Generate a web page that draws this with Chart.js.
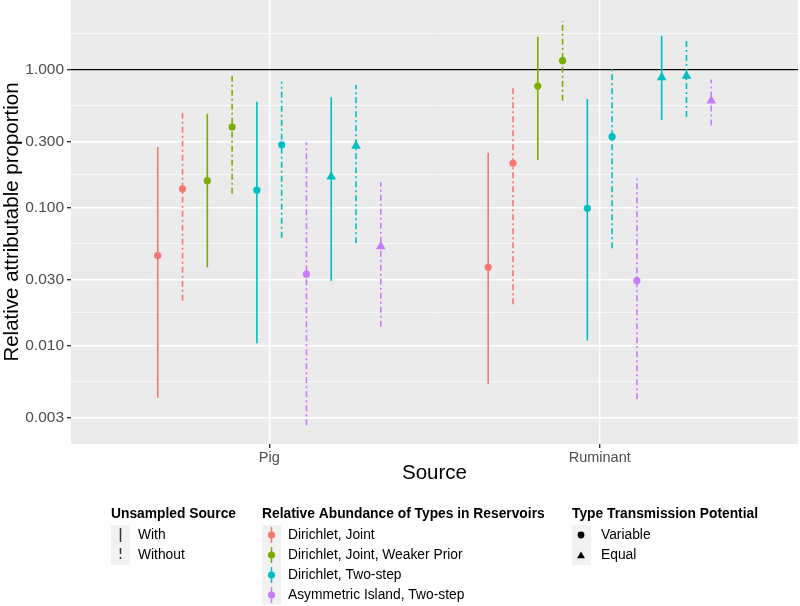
<!DOCTYPE html>
<html>
<head>
<meta charset="utf-8">
<script src="https://cdn.jsdelivr.net/npm/chart.js@4.4.1/dist/chart.umd.min.js"></script>
<style>
html, body { margin: 0; padding: 0; background: #fff; }
</style>
</head>
<body>
<canvas id="myChart" width="800" height="606"></canvas>
<script>
// categories on the x axis
const categories = ['Pig', 'Ruminant'];

// legend groups
const modelNames = ['Dirichlet, Joint', 'Dirichlet, Joint, Weaker Prior', 'Dirichlet, Two-step', 'Asymmetric Island, Two-step'];
const unsampledNames = ['With', 'Without'];
const shapeNames = ['Variable', 'Equal'];

// the 10 dodged series (index into the legend groups above)
const seriesModel = [0, 0, 1, 1, 2, 2, 3, 2, 2, 3];
const seriesUnsampled = [0, 1, 0, 1, 0, 1, 1, 0, 1, 1];
const seriesShape = [0, 0, 0, 0, 0, 0, 0, 1, 1, 1];

// estimates and intervals
const pigEst = [0.045, 0.137, 0.157, 0.384, 0.134, 0.286, 0.033, 0.168, 0.28, 0.0525];
const pigLow = [0.0042, 0.0212, 0.037, 0.126, 0.0104, 0.0606, 0.00265, 0.0294, 0.0552, 0.0137];
const pigHigh = [0.275, 0.488, 0.48, 0.94, 0.586, 0.819, 0.298, 0.631, 0.778, 0.153];
const rumEst = [0.037, 0.21, 0.762, 1.162, 0.099, 0.327, 0.0296, 0.88, 0.9, 0.596];
const rumLow = [0.0053, 0.02, 0.222, 0.596, 0.0109, 0.0508, 0.0041, 0.432, 0.454, 0.395];
const rumHigh = [0.25, 0.745, 1.73, 2.25, 0.613, 1.02, 0.163, 1.76, 1.64, 0.851];

// y axis breaks
const majorTicks = [0.003, 0.01, 0.03, 0.1, 0.3, 1];
const minorTicks = [0.005477, 0.01732, 0.05477, 0.1732, 0.5477, 1.826];
const refLine = 1;

const COLORS = ['#F8766D', '#7CAE00', '#00BFC4', '#C77CFF'];
const DASH = [6, 3, 2, 3];
const DODGE = 0.075;
const FONT = "'Liberation Sans', Arial, sans-serif";

function xPos(cat, i){ // dodged x position of series i in category cat
    return cat + 1 + (i - 4.5) * DODGE;
}

var datasets = [];

datasets.push({
    type: 'line',
    data: [{x: 0.4, y: refLine}, {x: 2.6, y: refLine}],
    borderColor: '#000000',
    borderWidth: 1.2,
    pointRadius: 0,
    order: 3
});

for(let i=0;i<seriesModel.length;i++){
    let col = COLORS[seriesModel[i]];
    let dashed = seriesUnsampled[i] == 1;
    // error bars, both categories in one dataset broken by a gap
    datasets.push({
        type: 'line',
        data: [
            {x: xPos(0, i), y: pigLow[i]}, {x: xPos(0, i), y: pigHigh[i]},
            {x: 1.5, y: null},
            {x: xPos(1, i), y: rumLow[i]}, {x: xPos(1, i), y: rumHigh[i]}
        ],
        borderColor: col,
        borderWidth: 1.6,
        borderDash: dashed ? DASH : [],
        borderCapStyle: 'butt',
        pointRadius: 0,
        spanGaps: false,
        order: 2
    });
    // point estimates
    datasets.push({
        type: 'scatter',
        data: [{x: xPos(0, i), y: pigEst[i]}, {x: xPos(1, i), y: rumEst[i]}],
        backgroundColor: col,
        borderWidth: 0,
        pointStyle: seriesShape[i] == 1 ? 'triangle' : 'circle',
        pointRadius: seriesShape[i] == 1 ? 5.6 : 3.6,
        order: 1
    });
}

const panelPlugin = { // grey ggplot panel behind the grid
    id: 'panel',
    beforeDraw(chart){
        const a = chart.chartArea;
        const ctx = chart.ctx;
        ctx.save();
        ctx.fillStyle = '#EBEBEB';
        ctx.fillRect(a.left, a.top, a.right - a.left, a.bottom - a.top);
        ctx.restore();
    }
};

const legendPlugin = { // three ggplot style legend groups under the plot
    id: 'ggLegend',
    afterDraw(chart){
        const ctx = chart.ctx;
        const top = 525, step = 20, titleY = 517.5;
        ctx.save();

        function title(text, x){
            ctx.font = "bold 13.8px " + FONT;
            ctx.fillStyle = '#000';
            ctx.textBaseline = 'alphabetic';
            ctx.textAlign = 'left';
            ctx.fillText(text, x, titleY);
        }
        function box(x, n){
            ctx.fillStyle = '#F2F2F2';
            ctx.fillRect(x, top, 19, step * n);
        }
        function label(text, x, k){
            ctx.font = "13.8px " + FONT;
            ctx.fillStyle = '#000';
            ctx.textBaseline = 'middle';
            ctx.textAlign = 'left';
            ctx.fillText(text, x, top + step * k + 10);
        }
        function tri(x, y, r){
            ctx.beginPath();
            ctx.moveTo(x, y - r);
            ctx.lineTo(x + r * 0.866, y + r / 2);
            ctx.lineTo(x - r * 0.866, y + r / 2);
            ctx.closePath();
            ctx.fill();
        }

        // Unsampled Source
        let x0 = 111;
        title('Unsampled Source', x0);
        box(x0, unsampledNames.length);
        for(let k=0;k<unsampledNames.length;k++){
            let cy = top + step * k + 10;
            ctx.strokeStyle = '#333';
            ctx.lineWidth = 1.5;
            ctx.setLineDash(k == 1 ? DASH : []);
            ctx.beginPath();
            ctx.moveTo(x0 + 9.5, cy - 7);
            ctx.lineTo(x0 + 9.5, cy + 7);
            ctx.stroke();
            ctx.setLineDash([]);
            label(unsampledNames[k], x0 + 27, k);
        }

        // Relative Abundance of Types in Reservoirs
        x0 = 262;
        title('Relative Abundance of Types in Reservoirs', x0);
        box(x0, modelNames.length);
        for(let k=0;k<modelNames.length;k++){
            let cy = top + step * k + 10;
            ctx.strokeStyle = COLORS[k];
            ctx.fillStyle = COLORS[k];
            ctx.lineWidth = 1.5;
            ctx.beginPath();
            ctx.moveTo(x0 + 9.5, cy - 8);
            ctx.lineTo(x0 + 9.5, cy + 8);
            ctx.stroke();
            ctx.beginPath();
            ctx.arc(x0 + 9.5, cy, 3.6, 0, Math.PI * 2);
            ctx.fill();
            label(modelNames[k], x0 + 26, k);
        }

        // Type Transmission Potential
        x0 = 572;
        title('Type Transmission Potential', x0);
        box(x0, shapeNames.length);
        ctx.fillStyle = '#000';
        ctx.beginPath();
        ctx.arc(x0 + 9, top + 10, 3.4, 0, Math.PI * 2);
        ctx.fill();
        tri(x0 + 9, top + step + 11, 4.6);
        for(let k=0;k<shapeNames.length;k++){
            label(shapeNames[k], x0 + 29, k);
        }

        ctx.restore();
    }
};

const CTX = document.getElementById('myChart').getContext('2d');
const CONFIG = {
    type: 'scatter',
    data: { datasets: datasets },
    options: {
        responsive: false,
        animation: false,
        events: [],
        layout: { autoPadding: false, padding: { left: 0, right: 2, top: 0, bottom: 120 } },
        plugins: { legend: { display: false }, tooltip: { enabled: false } },
        scales: {
            x: {
                type: 'linear',
                min: 0.4,
                max: 2.6,
                afterBuildTicks: (scale) => { scale.ticks = [{value: 1}, {value: 2}]; },
                afterFit: (scale) => { scale.height = 42; scale.paddingLeft = 0; scale.paddingRight = 0; },
                ticks: {
                    autoSkip: false,
                    padding: 1,
                    color: '#4D4D4D',
                    font: { family: FONT, size: 14.5 },
                    callback: (v) => categories[Math.round(v) - 1]
                },
                grid: { color: '#FFFFFF', lineWidth: 1.4, tickColor: '#333333', tickLength: 4 },
                border: { display: false },
                title: { display: true, text: 'Source', color: '#000', font: { family: FONT, size: 20.5 }, padding: 0 }
            },
            y: {
                type: 'logarithmic',
                min: 0.00194,
                max: 3.2,
                afterBuildTicks: (scale) => {
                    scale.ticks = majorTicks.concat(minorTicks).sort((a, b) => a - b).map(v => ({value: v}));
                },
                afterFit: (scale) => { scale.width = 71; scale.paddingTop = 0; scale.paddingBottom = 0; },
                ticks: {
                    autoSkip: false,
                    padding: 3,
                    color: '#4D4D4D',
                    font: { family: FONT, size: 15.5 },
                    callback: (v) => majorTicks.includes(v) ? v.toFixed(3) : ''
                },
                grid: {
                    color: '#FFFFFF',
                    lineWidth: (c) => (c.tick && majorTicks.includes(c.tick.value)) ? 1.4 : 0.7,
                    tickColor: (c) => (c.tick && majorTicks.includes(c.tick.value)) ? '#333333' : 'rgba(0,0,0,0)',
                    tickLength: 4
                },
                border: { display: false },
                title: { display: true, text: 'Relative attributable proportion', color: '#000', font: { family: FONT, size: 20.5 }, padding: 0 }
            }
        }
    },
    plugins: [panelPlugin, legendPlugin]
};
const myChart = new Chart(CTX, CONFIG);
</script>
</body>
</html>
